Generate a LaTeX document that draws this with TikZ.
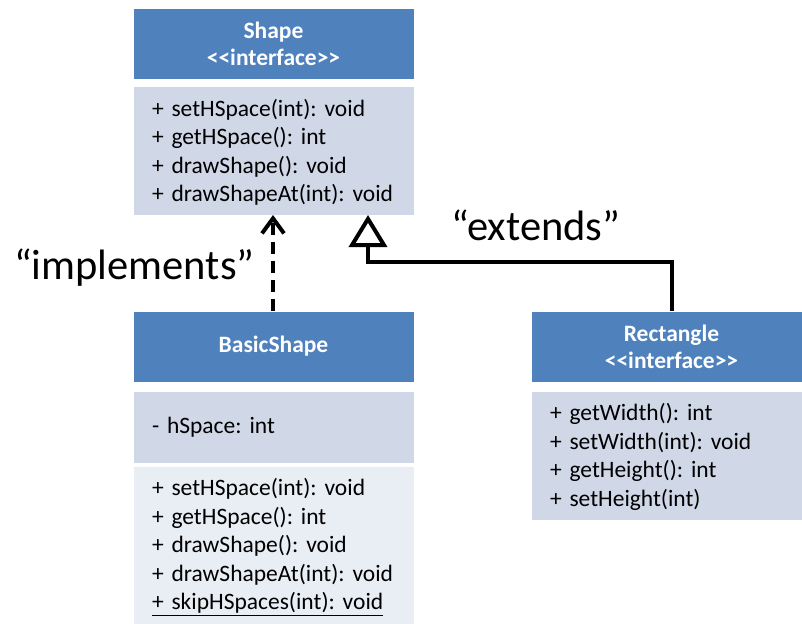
\documentclass[tikz,border=0pt]{standalone}
\usepackage{fontspec}
\setmainfont{Carlito}
\usetikzlibrary{arrows.meta}
\frenchspacing
\definecolor{hdrblue}{HTML}{4F81BD}
\definecolor{bodycol}{HTML}{D0D8E8}
\definecolor{bodylight}{HTML}{E9EDF4}
\newcommand{\stereo}{{<}{<}interface{>}{>}}
\tikzset{
  boxbase/.style={rectangle, draw=white, line width=1pt, minimum width=281pt, inner sep=0pt, outer sep=0pt},
  hdr/.style={boxbase, fill=hdrblue, minimum height=71pt, text=white, align=center,
    font=\fontsize{23.5}{27}\selectfont\bfseries},
  bodybox/.style={boxbase, fill=bodycol, text width=243pt, align=left,
    font=\fontsize{23.5}{28.5}\selectfont},
  lightbox/.style={bodybox, fill=bodylight},
  lbl/.style={anchor=base west, inner sep=0pt, font=\fontsize{42.5}{46}\selectfont},
  rel/.style={line width=4pt, black},
}
\begin{document}
\begin{tikzpicture}[x=1pt,y=-1pt]
\useasboundingbox (0,0) rectangle (802,623);
% Shape
\node[hdr] (shapehdr) at (273.5,44) {Shape\\\stereo};
\node[bodybox, minimum height=128pt] (shapebody) at (273.5,151) {\rule{0pt}{20pt}+ setHSpace(int): void\\+ getHSpace(): int\\+ drawShape(): void\\+ drawShapeAt(int): void};
% BasicShape
\node[hdr] (basichdr) at (273.5,346.5) {BasicShape};
\node[bodybox, minimum height=72pt] (basicattr) at (273.5,427) {- hSpace: int};
\node[lightbox, minimum height=159pt] (basicops) at (273.5,545.5) {\rule{0pt}{20pt}+ setHSpace(int): void\\+ getHSpace(): int\\+ drawShape(): void\\+ drawShapeAt(int): void\\\underline{+ skipHSpaces(int): void}};
% Rectangle
\node[hdr] (recthdr) at (671.5,346.5) {Rectangle\\\stereo};
\node[bodybox, minimum height=129pt] (rectbody) at (671.5,455.5) {\rule{0pt}{20pt}+ getWidth(): int\\+ setWidth(int): void\\+ getHeight(): int\\+ setHeight(int)};
% relations
\draw[rel, dash pattern=on 12pt off 7pt, -{Straight Barb[length=15pt,width=22pt]}]
  (basichdr.north -| 273,0) -- (shapebody.south -| 273,0);
\coordinate (bend) at (368,262);
\draw[rel, -{Triangle[open,length=32pt,width=38pt]}]
  (recthdr.north) |- (bend) -- (shapebody.south -| bend);
% labels
\node[lbl] (implabel) at (14,279) {“implements”};
\node[lbl] (extlabel) at (451,240) {“extends”};
\end{tikzpicture}
\end{document}
